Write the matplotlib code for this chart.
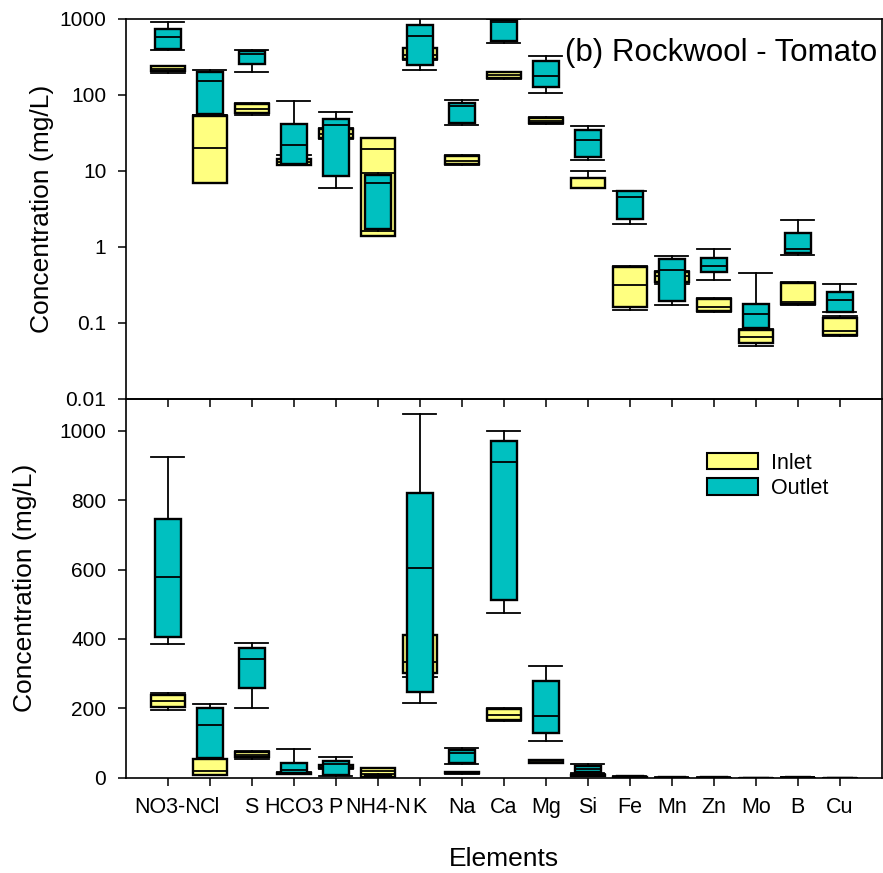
import numpy as np
import matplotlib
matplotlib.use("Agg")
import matplotlib.pyplot as plt
from matplotlib.patches import Patch
from matplotlib.ticker import FixedLocator, FixedFormatter

plt.rcParams['font.family'] = ['Liberation Sans', 'DejaVu Sans']

# --- Data ---
elements = ["NO3-N", "Cl", "S", "HCO3", "P", "NH4-N", "K", "Na", "Ca", "Mg",
            "Si", "Fe", "Mn", "Zn", "Mo", "B", "Cu"]

# whisker low, q1, median, q3, whisker high (mg/L)
inlet_lo  = [194, 6.9, 54.6, 11.8, 26, 1.38, 290, 12, 164, 42, 6.0, 0.15, 0.33, 0.14, 0.0498, 0.174, 0.068]
inlet_q1  = [205, 7.0, 58.5, 12.0, 27, 1.40, 301, 12.2, 167, 43, 6.0, 0.16, 0.343, 0.145, 0.054, 0.176, 0.070]
inlet_med = [222, 20, 65, 13, 31, 19.3, 333, 13.7, 181, 45, 8.1, 0.32, 0.41, 0.164, 0.066, 0.19, 0.079]
inlet_q3  = [238, 53, 75, 14.3, 35.4, 26.9, 410, 15.8, 199, 50, 8.2, 0.55, 0.473, 0.207, 0.081, 0.34, 0.115]
inlet_hi  = [243, 54, 77.6, 16.1, 37, 27, 412, 16, 201, 52, 10.1, 0.56, 0.48, 0.21, 0.083, 0.345, 0.125]

outlet_lo  = [385, 55, 200, 12, 6.0, 1.6, 216, 40.3, 476, 106, 14, 1.99, 0.171, 0.368, 0.082, 0.785, 0.14]
outlet_q1  = [405, 56.5, 258, 12.2, 8.6, 1.71, 246, 42.4, 512, 128, 15.1, 2.31, 0.195, 0.469, 0.085, 0.84, 0.141]
outlet_med = [580, 152, 341, 22, 40.6, 7.0, 605, 72, 911, 178, 25.6, 4.5, 0.498, 0.568, 0.13, 0.94, 0.201]
outlet_q3  = [745, 200, 374, 42, 48.7, 8.86, 822, 79, 972, 280, 34.6, 5.45, 0.689, 0.724, 0.176, 1.51, 0.258]
outlet_hi  = [925, 212, 389, 84, 60.3, 9.3, 1050, 86, 1000, 322, 39.4, 5.5, 0.762, 0.95, 0.451, 2.26, 0.323]

yellow = "#FFFF80"
teal = "#00C0C0"


def make_stats(lo, q1, med, q3, hi):
    return [dict(whislo=a, q1=b, med=c, q3=d, whishi=e, fliers=[])
            for a, b, c, d, e in zip(lo, q1, med, q3, hi)]


inlet = make_stats(inlet_lo, inlet_q1, inlet_med, inlet_q3, inlet_hi)
outlet = make_stats(outlet_lo, outlet_q1, outlet_med, outlet_q3, outlet_hi)
pos = np.arange(1, len(elements) + 1)


def draw(ax):
    ax.bxp(inlet, positions=pos, widths=0.81, capwidths=0.8, patch_artist=True,
           showfliers=False, manage_ticks=False, zorder=2,
           boxprops=dict(facecolor=yellow, edgecolor='black', linewidth=1.7),
           medianprops=dict(color='black', linewidth=1.3),
           whiskerprops=dict(color='black', linewidth=1.3),
           capprops=dict(color='black', linewidth=1.3))
    ax.bxp(outlet, positions=pos, widths=0.62, capwidths=0.78, patch_artist=True,
           showfliers=False, manage_ticks=False, zorder=3,
           boxprops=dict(facecolor=teal, edgecolor='black', linewidth=1.7),
           medianprops=dict(color='black', linewidth=1.3),
           whiskerprops=dict(color='black', linewidth=1.3),
           capprops=dict(color='black', linewidth=1.3))
    ax.set_xlim(0, 18)
    ax.xaxis.set_major_locator(FixedLocator(pos))
    ax.tick_params(direction='out', length=6, width=1.1, labelsize=15, pad=8)
    for s in ax.spines.values():
        s.set_linewidth(1.2)


fig = plt.figure(figsize=(8.83, 8.73), dpi=100)
ax1 = fig.add_axes([0.1424, 0.5430, 0.8562, 0.4353])
ax2 = fig.add_axes([0.1424, 0.1092, 0.8562, 0.4338])
ax2.patch.set_visible(False)

# --- Top panel: log scale ---
draw(ax1)
ax1.set_yscale('log')
ax1.set_ylim(0.01, 1000)
ax1.yaxis.set_major_locator(FixedLocator([0.01, 0.1, 1, 10, 100, 1000]))
ax1.yaxis.set_major_formatter(FixedFormatter(["0.01", "0.1", "1", "10", "100", "1000"]))
ax1.yaxis.set_minor_locator(FixedLocator([]))
ax1.tick_params(axis='x', labelbottom=False)
ax1.set_ylabel("Concentration (mg/L)", fontsize=19)
ax1.yaxis.set_label_coords(-0.095, 0.5)
ax1.text(0.994, 0.910, "(b) Rockwool - Tomato", transform=ax1.transAxes,
         ha='right', va='center', fontsize=22.5)

# --- Bottom panel: linear scale ---
draw(ax2)
ax2.set_ylim(0, 1092)
ax2.set_yticks([0, 200, 400, 600, 800, 1000])
ax2.set_xticks(pos)
ax2.set_xticklabels(elements, family=['Liberation Sans Narrow', 'Liberation Sans'], fontsize=15.5)
ax2.set_ylabel("Concentration (mg/L)", fontsize=19)
ax2.yaxis.set_label_coords(-0.1175, 0.5)
ax2.set_xlabel("Elements", fontsize=19)
ax2.xaxis.set_label_coords(0.5, -0.183)

handles = [Patch(facecolor=yellow, edgecolor='black', linewidth=1.5, label="Inlet"),
           Patch(facecolor=teal, edgecolor='black', linewidth=1.5, label="Outlet")]
ax2.legend(handles=handles, loc='upper left', bbox_to_anchor=(0.7685, 0.858),
           frameon=False, fontsize=15.5, handlelength=2.4, handleheight=0.8,
           handletextpad=0.6, labelspacing=0.2, borderpad=0, borderaxespad=0)

fig.savefig("out.png", dpi=100)
